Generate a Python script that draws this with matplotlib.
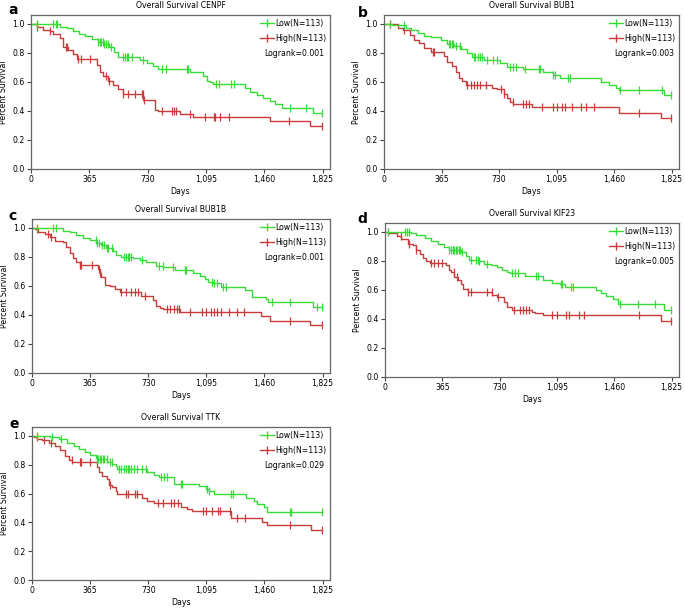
import numpy as np
import matplotlib
matplotlib.use('Agg')
import matplotlib.pyplot as plt
from matplotlib.lines import Line2D
from matplotlib.ticker import FuncFormatter

GREEN = '#38dc38'
RED = '#c83c3c'

# ---- data: event times (days), survival after each step, censor times ----
# a  CENPF
a_low_t = [181, 223, 265, 300, 340, 380, 420, 455, 490, 520, 546, 682, 724, 765, 797, 995, 1078, 1100, 1120, 1141, 1339, 1370, 1412, 1454, 1496, 1530, 1569, 1767]
a_low_s = [0.98, 0.97, 0.95, 0.93, 0.917, 0.895, 0.878, 0.86, 0.84, 0.81, 0.77, 0.75, 0.73, 0.71, 0.69, 0.67, 0.64, 0.61, 0.60, 0.583, 0.56, 0.53, 0.51, 0.49, 0.47, 0.45, 0.422, 0.385]
a_low_c = [35, 140, 155, 165, 420, 430, 440, 450, 460, 470, 480, 500, 578, 590, 600, 610, 630, 700, 820, 845, 975, 985, 1160, 1180, 1250, 1270, 1620, 1720, 1820]
a_high_t = [35, 77, 119, 140, 181, 200, 230, 260, 286, 411, 432, 453, 484, 515, 546, 578, 703, 776, 797, 932, 1016, 1496, 1746]
a_high_s = [0.98, 0.96, 0.95, 0.93, 0.90, 0.84, 0.82, 0.79, 0.76, 0.72, 0.67, 0.64, 0.61, 0.58, 0.55, 0.516, 0.477, 0.408, 0.397, 0.378, 0.362, 0.328, 0.294]
a_high_c = [35, 120, 220, 225, 295, 315, 370, 470, 490, 578, 610, 650, 695, 700, 705, 820, 880, 895, 910, 995, 1090, 1145, 1155, 1185, 1240, 1615, 1820]

# b  BUB1
b_low_t = [50, 140, 172, 214, 256, 298, 361, 403, 445, 487, 529, 560, 634, 738, 780, 885, 1011, 1074, 1116, 1378, 1431, 1473, 1494, 1777]
b_low_s = [0.99, 0.97, 0.96, 0.94, 0.92, 0.91, 0.89, 0.86, 0.85, 0.83, 0.80, 0.77, 0.752, 0.73, 0.706, 0.688, 0.67, 0.65, 0.628, 0.60, 0.58, 0.56, 0.544, 0.507]
b_low_c = [35, 130, 410, 420, 430, 440, 460, 480, 570, 580, 595, 610, 625, 655, 690, 720, 800, 820, 840, 895, 985, 990, 1075, 1085, 1170, 1180, 1500, 1620, 1765, 1820]
b_high_t = [88, 120, 162, 193, 224, 256, 298, 382, 403, 434, 455, 476, 497, 518, 686, 717, 760, 780, 801, 822, 938, 1494, 1756]
b_high_s = [0.97, 0.96, 0.924, 0.89, 0.867, 0.833, 0.81, 0.782, 0.74, 0.71, 0.67, 0.626, 0.61, 0.576, 0.557, 0.55, 0.52, 0.489, 0.46, 0.45, 0.431, 0.388, 0.351]
b_high_c = [35, 125, 310, 320, 530, 550, 570, 590, 610, 650, 740, 760, 820, 880, 900, 920, 1000, 1075, 1095, 1130, 1150, 1195, 1250, 1280, 1335, 1620, 1820]

# c  BUB1B
c_low_t = [195, 237, 279, 321, 362, 404, 436, 467, 509, 530, 561, 635, 677, 719, 781, 823, 897, 1012, 1054, 1085, 1106, 1138, 1190, 1337, 1379, 1473, 1483, 1766]
c_low_s = [0.982, 0.97, 0.95, 0.93, 0.917, 0.899, 0.88, 0.859, 0.84, 0.813, 0.80, 0.79, 0.78, 0.767, 0.74, 0.733, 0.71, 0.69, 0.67, 0.65, 0.629, 0.62, 0.59, 0.57, 0.525, 0.51, 0.491, 0.452]
c_low_c = [30, 130, 150, 400, 410, 420, 440, 450, 470, 480, 500, 575, 590, 600, 610, 625, 690, 800, 820, 885, 960, 970, 1130, 1145, 1165, 1200, 1220, 1510, 1620, 1790, 1820]
c_high_t = [17, 38, 80, 111, 142, 195, 216, 237, 258, 279, 300, 415, 425, 436, 457, 488, 520, 551, 687, 760, 781, 802, 823, 928, 1441, 1494, 1745]
c_high_s = [0.99, 0.97, 0.959, 0.94, 0.912, 0.90, 0.871, 0.83, 0.79, 0.767, 0.744, 0.72, 0.691, 0.664, 0.606, 0.60, 0.58, 0.56, 0.53, 0.50, 0.461, 0.45, 0.438, 0.422, 0.392, 0.359, 0.329]
c_high_c = [30, 100, 120, 300, 310, 375, 420, 430, 560, 590, 620, 645, 665, 710, 850, 870, 890, 910, 925, 990, 1065, 1095, 1125, 1145, 1165, 1185, 1240, 1285, 1330, 1620, 1820]

# d  KIF23
d_low_t = [168, 200, 252, 294, 336, 379, 410, 484, 515, 536, 599, 631, 673, 715, 747, 778, 799, 894, 1009, 1062, 1115, 1146, 1346, 1377, 1409, 1451, 1483, 1777]
d_low_s = [0.99, 0.98, 0.96, 0.94, 0.92, 0.894, 0.876, 0.86, 0.834, 0.806, 0.80, 0.78, 0.77, 0.756, 0.74, 0.726, 0.714, 0.694, 0.668, 0.65, 0.64, 0.622, 0.60, 0.58, 0.56, 0.54, 0.502, 0.461]
d_low_c = [20, 130, 140, 150, 410, 420, 430, 440, 450, 460, 470, 480, 490, 550, 580, 590, 600, 650, 810, 830, 850, 965, 975, 1120, 1130, 1185, 1200, 1500, 1610, 1720, 1820]
d_high_t = [21, 74, 105, 147, 179, 200, 221, 242, 263, 284, 389, 410, 421, 442, 463, 484, 494, 515, 526, 683, 715, 757, 778, 810, 936, 957, 1009, 1756]
d_high_s = [0.99, 0.97, 0.949, 0.92, 0.91, 0.876, 0.85, 0.818, 0.80, 0.788, 0.772, 0.74, 0.726, 0.69, 0.668, 0.64, 0.61, 0.604, 0.588, 0.565, 0.55, 0.52, 0.484, 0.465, 0.45, 0.442, 0.426, 0.387]
d_high_c = [20, 100, 150, 200, 290, 310, 340, 360, 440, 460, 530, 550, 650, 680, 720, 820, 860, 880, 900, 920, 1065, 1095, 1150, 1170, 1235, 1265, 1620, 1820]

# e  TTK
e_low_t = [115, 168, 220, 262, 294, 336, 367, 399, 409, 472, 504, 525, 535, 724, 766, 797, 892, 1049, 1091, 1112, 1143, 1343, 1395, 1416, 1458, 1479]
e_low_s = [0.99, 0.982, 0.952, 0.93, 0.91, 0.889, 0.87, 0.85, 0.839, 0.82, 0.802, 0.79, 0.77, 0.75, 0.73, 0.712, 0.668, 0.65, 0.629, 0.62, 0.594, 0.57, 0.55, 0.53, 0.509, 0.472]
e_low_c = [30, 125, 185, 410, 415, 425, 435, 445, 455, 470, 490, 500, 545, 560, 580, 590, 600, 610, 620, 640, 660, 690, 715, 810, 830, 850, 935, 945, 1100, 1115, 1250, 1265, 1620, 1625, 1820]
e_high_t = [10, 31, 63, 105, 147, 178, 210, 231, 252, 409, 420, 441, 472, 483, 504, 525, 535, 692, 724, 766, 934, 976, 1007, 1248, 1448, 1479, 1752]
e_high_s = [0.99, 0.98, 0.97, 0.952, 0.93, 0.901, 0.86, 0.83, 0.816, 0.786, 0.75, 0.72, 0.70, 0.66, 0.643, 0.62, 0.594, 0.57, 0.551, 0.537, 0.51, 0.491, 0.482, 0.431, 0.40, 0.38, 0.348]
e_high_c = [30, 75, 120, 250, 300, 310, 365, 490, 590, 600, 650, 660, 790, 820, 875, 895, 915, 1075, 1095, 1130, 1170, 1180, 1245, 1285, 1340, 1620, 1820]

genes = ['CENPF', 'BUB1', 'BUB1B', 'KIF23', 'TTK']
logranks = ['0.001', '0.003', '0.001', '0.005', '0.029']
letters = ['a', 'b', 'c', 'd', 'e']
curves = [
    (a_low_t, a_low_s, a_low_c, a_high_t, a_high_s, a_high_c),
    (b_low_t, b_low_s, b_low_c, b_high_t, b_high_s, b_high_c),
    (c_low_t, c_low_s, c_low_c, c_high_t, c_high_s, c_high_c),
    (d_low_t, d_low_s, d_low_c, d_high_t, d_high_s, d_high_c),
    (e_low_t, e_low_s, e_low_c, e_high_t, e_high_s, e_high_c),
]
day_ticks = [0, 365, 730, 1095, 1460, 1825]

W, H = 685, 609
# axes boxes in pixels: left, right, top, bottom
boxes = [(31, 330, 15, 169), (384, 679, 15, 169),
         (32, 330, 219, 373), (385, 679, 223, 377),
         (32, 330, 427, 580)]
letter_pos = [(8, 10), (358, 13), (8, 216), (357, 219), (9, 424)]


def km_curve(ax, times, surv, cens, color):
    end = max(cens)
    xs = np.r_[0, times, end]
    ys = np.r_[1.0, surv, surv[-1]]
    ax.step(xs, ys, where='post', color=color, lw=1.0)
    # censor marks sit on the step curve
    idx = np.searchsorted(xs, cens, side='right') - 1
    ax.plot(cens, ys[idx], ls='none', marker='|', ms=5.5, mew=0.9, color=color)


fig = plt.figure(figsize=(W / 100, H / 100), dpi=100)
fs = 5.6
for i, (l, r, t, b) in enumerate(boxes):
    ax = fig.add_axes([l / W, 1 - b / H, (r - l) / W, (b - t) / H])
    lt, ls_, lc, ht, hs, hc = curves[i]
    km_curve(ax, ht, hs, hc, RED)
    km_curve(ax, lt, ls_, lc, GREEN)
    ax.set_xlim(0, 1825 * (r - l) / ((r - l) - 7.5))
    ax.set_ylim(0, 1.062)
    ax.set_xticks(day_ticks)
    ax.xaxis.set_major_formatter(FuncFormatter(lambda v, p: f'{int(v):,}'))
    ax.set_yticks(np.arange(0, 1.01, 0.2))
    ax.yaxis.set_major_formatter(FuncFormatter(lambda v, p: f'{v:.1f}'))
    ax.tick_params(labelsize=fs, length=3, width=0.8, color='#444444', pad=1.5)
    for sp in ax.spines.values():
        sp.set_color('#666666')
        sp.set_linewidth(0.9)
    ax.set_xlabel('Days', fontsize=fs, labelpad=2)
    ax.set_ylabel('Percent Survival', fontsize=fs, labelpad=3)
    ax.set_title('Overall Survival ' + genes[i], fontsize=fs, pad=5)
    handles = [Line2D([], [], color=GREEN, lw=1.0, marker='|', ms=5.5),
               Line2D([], [], color=RED, lw=1.0, marker='|', ms=5.5)]
    ax.legend(handles, ['Low(N=113)', 'High(N=113)'], loc='upper right', frameon=False,
              fontsize=fs, handlelength=1.8, handletextpad=0.1, borderaxespad=0.2,
              labelspacing=0.75, borderpad=0.3)
    ax.text(0.78, 0.75, 'Logrank=' + logranks[i], transform=ax.transAxes, fontsize=fs,
            va='center', ha='left')
    lx, ly = letter_pos[i]
    fig.text(lx / W, 1 - ly / H, letters[i], fontsize=10, fontweight='bold', va='center', ha='left')

fig.savefig('out.png', dpi=100)
